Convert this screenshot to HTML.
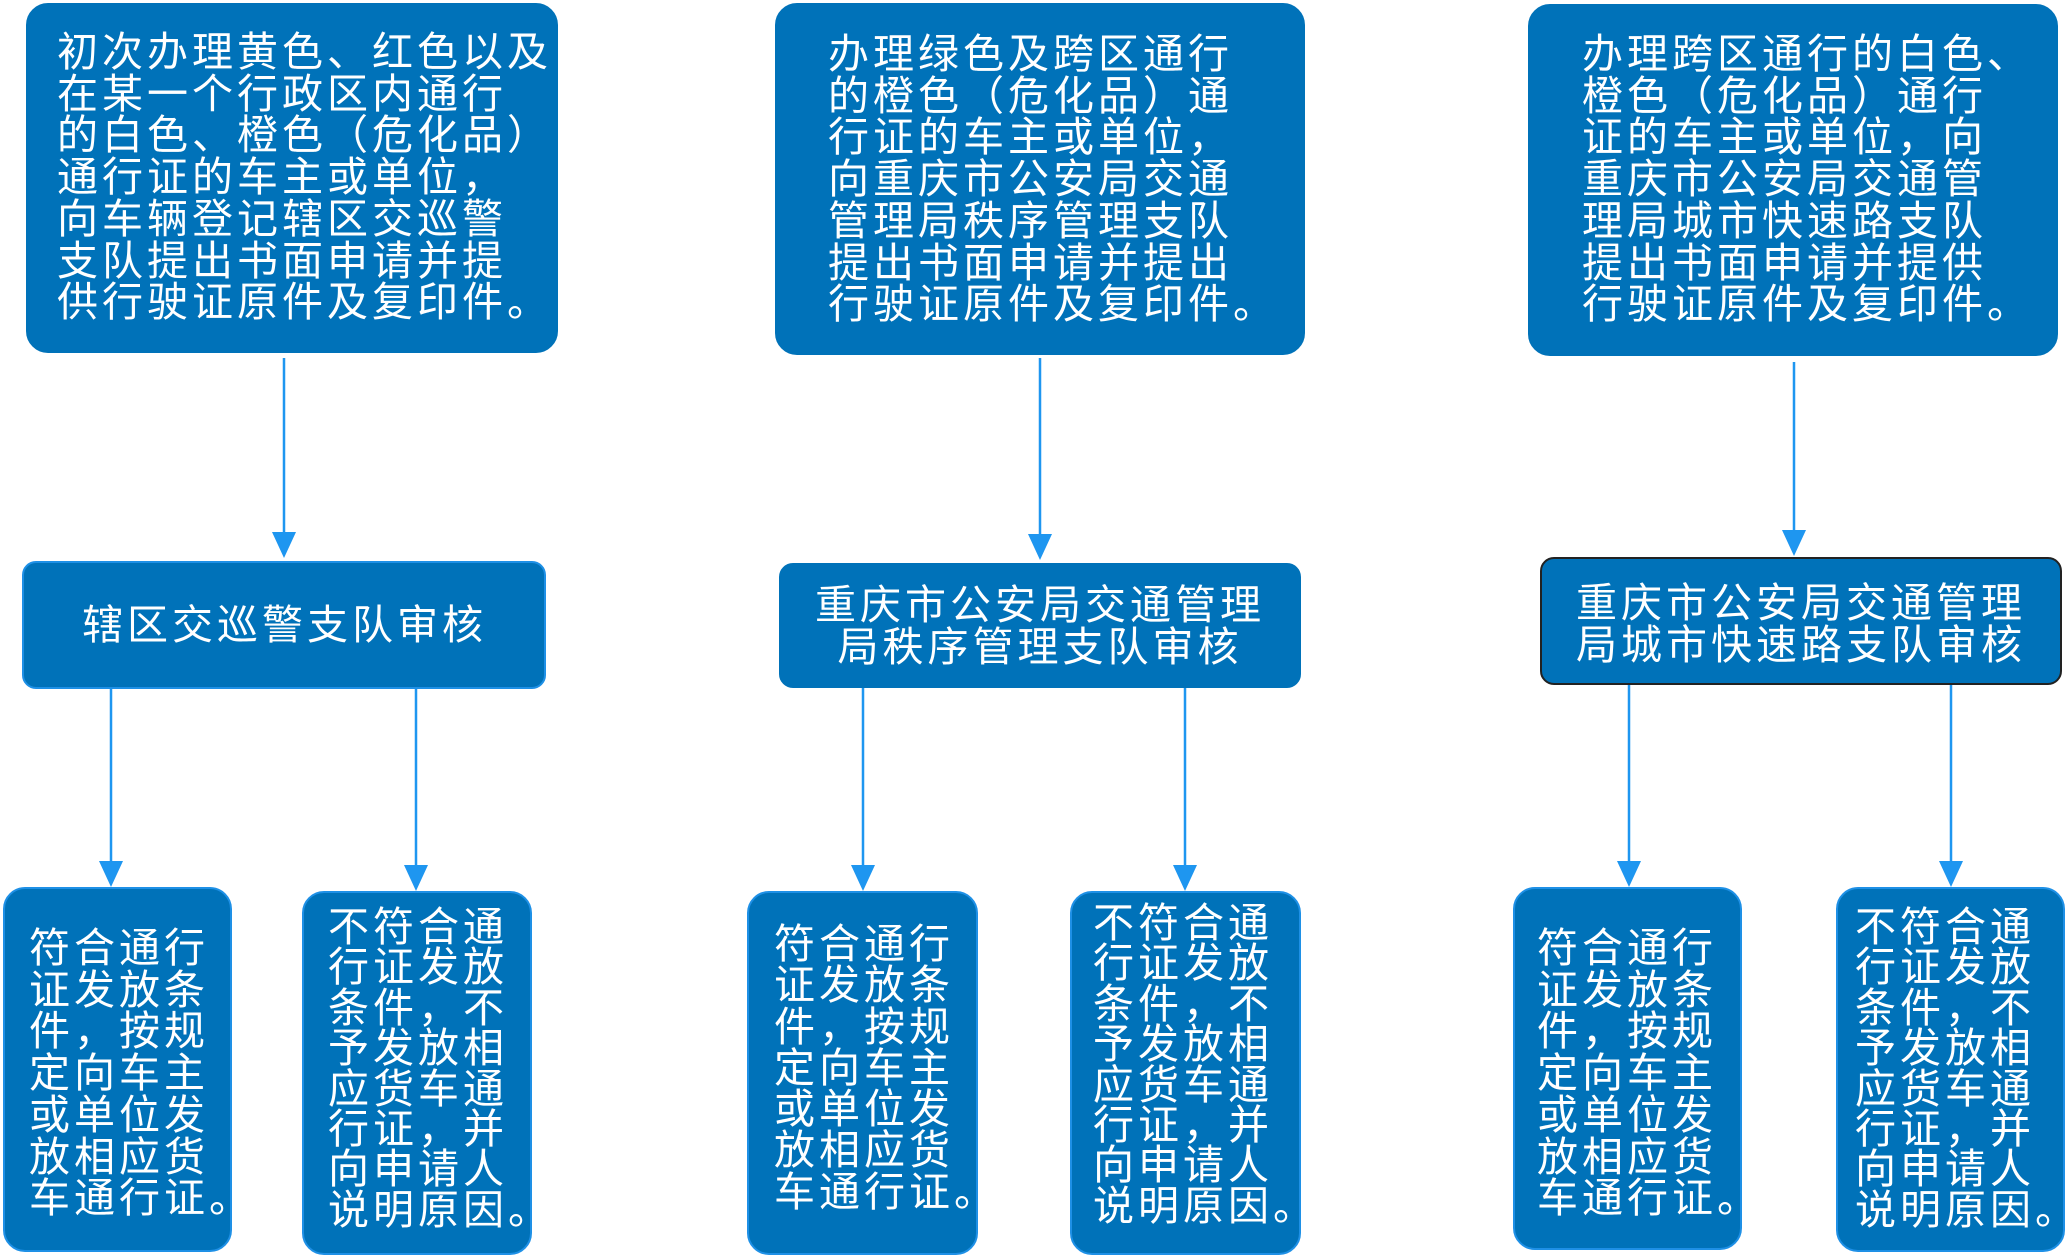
<!DOCTYPE html>
<html><head><meta charset="utf-8"><style>
body{margin:0;width:2067px;height:1258px;background:#fff;position:relative;overflow:hidden;font-family:"Liberation Sans","Noto Sans CJK SC",sans-serif;}
.b{position:absolute;background:#0072b9;border:2px solid #1e90e6;box-sizing:border-box;border-radius:22px;}
.t{position:absolute;color:#fff;font-size:41px;line-height:41.7px;letter-spacing:4px;white-space:pre;}
svg{position:absolute;left:0;top:0;}
</style></head><body>
<div class="b" style="left:26px;top:3px;width:532px;height:350px;border-color:#0072b9"></div>
<div class="b" style="left:775px;top:3px;width:530px;height:352px;border-color:#0072b9"></div>
<div class="b" style="left:1528px;top:4px;width:530px;height:352px;border-color:#0072b9"></div>
<div class="b" style="left:22px;top:561px;width:524px;height:128px;border-radius:14px"></div>
<div class="b" style="left:779px;top:563px;width:522px;height:125px;border-radius:14px;border-color:#0072b9"></div>
<div class="b" style="left:1540px;top:557px;width:522px;height:128px;border-radius:14px;border-color:#222"></div>
<div class="b" style="left:3px;top:887px;width:229px;height:365px"></div>
<div class="b" style="left:302px;top:891px;width:230px;height:364px"></div>
<div class="b" style="left:747px;top:891px;width:231px;height:364px"></div>
<div class="b" style="left:1070px;top:891px;width:231px;height:364px"></div>
<div class="b" style="left:1513px;top:887px;width:229px;height:363px"></div>
<div class="b" style="left:1836px;top:887px;width:229px;height:365px"></div>

<div class="t" style="left:57px;top:32px">初次办理黄色、红色以及
在某一个行政区内通行
的白色、橙色（危化品）
通行证的车主或单位，
向车辆登记辖区交巡警
支队提出书面申请并提
供行驶证原件及复印件。</div>
<div class="t" style="left:828px;top:34px">办理绿色及跨区通行
的橙色（危化品）通
行证的车主或单位，
向重庆市公安局交通
管理局秩序管理支队
提出书面申请并提出
行驶证原件及复印件。</div>
<div class="t" style="left:1582px;top:34px">办理跨区通行的白色、
橙色（危化品）通行
证的车主或单位，向
重庆市公安局交通管
理局城市快速路支队
提出书面申请并提供
行驶证原件及复印件。</div>
<div class="t" style="left:82px;top:605px">辖区交巡警支队审核</div>
<div class="t" style="left:779px;width:522px;text-align:center;top:585px">重庆市公安局交通管理
局秩序管理支队审核</div>
<div class="t" style="left:1540px;width:522px;text-align:center;top:583px">重庆市公安局交通管理
局城市快速路支队审核</div>
<div class="t" style="left:29px;top:928px">符合通行
证发放条
件，按规
定向车主
或单位发
放相应货
车通行证。</div>
<div class="t" style="left:328px;top:907px;line-height:40.4px">不符合通
行证发放
条件，不
予发放相
应货车通
行证，并
向申请人
说明原因。</div>
<div class="t" style="left:774px;top:924px;line-height:41.3px">符合通行
证发放条
件，按规
定向车主
或单位发
放相应货
车通行证。</div>
<div class="t" style="left:1093px;top:903px;line-height:40.4px">不符合通
行证发放
条件，不
予发放相
应货车通
行证，并
向申请人
说明原因。</div>
<div class="t" style="left:1537px;top:928px">符合通行
证发放条
件，按规
定向车主
或单位发
放相应货
车通行证。</div>
<div class="t" style="left:1855px;top:907px;line-height:40.4px">不符合通
行证发放
条件，不
予发放相
应货车通
行证，并
向申请人
说明原因。</div>

<svg width="2067" height="1258">
<g stroke="#1e96f0" stroke-width="2.5" fill="none">
<line x1="284" y1="358" x2="284" y2="540"/>
<line x1="1040" y1="358" x2="1040" y2="542"/>
<line x1="1794" y1="362" x2="1794" y2="538"/>
<line x1="111" y1="689" x2="111" y2="870"/>
<line x1="416" y1="689" x2="416" y2="874"/>
<line x1="863" y1="688" x2="863" y2="874"/>
<line x1="1185" y1="688" x2="1185" y2="874"/>
<line x1="1629" y1="685" x2="1629" y2="870"/>
<line x1="1951" y1="685" x2="1951" y2="870"/>
</g>
<g fill="#1e96f0">
<polygon points="272,532 296,532 284,558"/>
<polygon points="1028,534 1052,534 1040,560"/>
<polygon points="1782,530 1806,530 1794,556"/>
<polygon points="99,861 123,861 111,887"/>
<polygon points="404,865 428,865 416,891"/>
<polygon points="851,865 875,865 863,891"/>
<polygon points="1173,865 1197,865 1185,891"/>
<polygon points="1617,861 1641,861 1629,887"/>
<polygon points="1939,861 1963,861 1951,887"/>
</g>
</svg>
</body></html>
